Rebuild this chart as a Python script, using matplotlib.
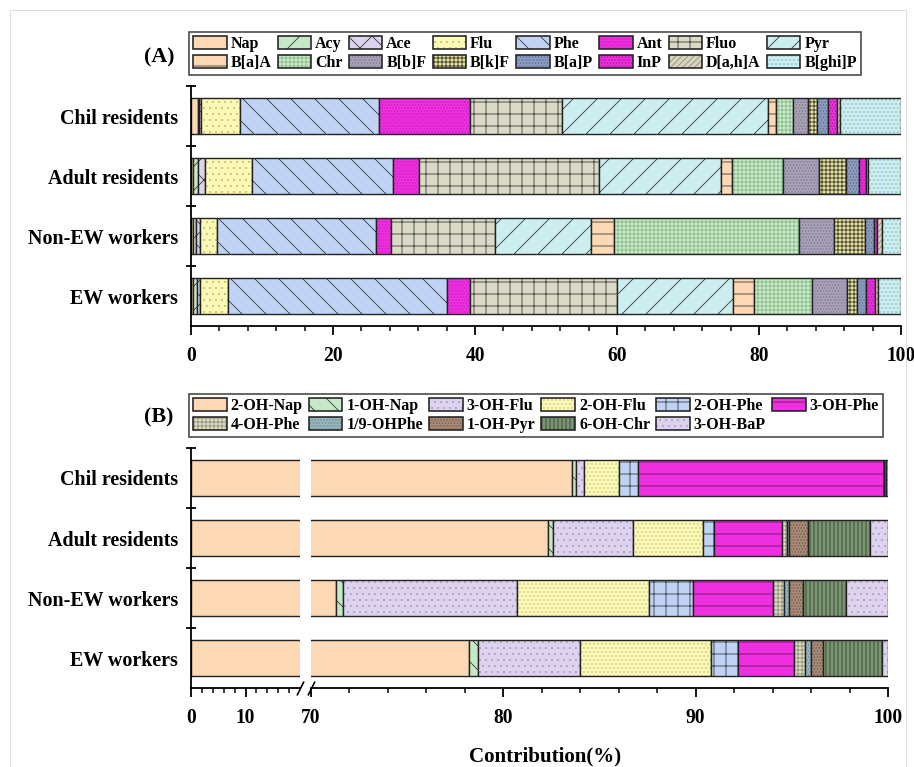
import numpy as np
import matplotlib
matplotlib.use('Agg')
import matplotlib.pyplot as plt
from matplotlib.patches import Patch, Rectangle

plt.rcParams['font.family'] = ['Liberation Serif', 'DejaVu Serif']
plt.rcParams['font.weight'] = 'bold'
plt.rcParams['hatch.linewidth'] = 0.8

# 行顺序：从下到上
groups = ['EW workers', 'Non-EW workers', 'Adult residents', 'Chil residents']

# (A) PAHs 贡献率 (%)
pah_names = ['Nap', 'Acy', 'Ace', 'Flu', 'Phe', 'Ant', 'Fluo', 'Pyr',
             'B[a]A', 'Chr', 'B[b]F', 'B[k]F', 'B[a]P', 'InP', 'D[a,h]A', 'B[ghi]P']
pah_ew = [0.35, 0.5, 0.45, 3.9, 30.8, 3.3, 20.7, 16.3, 3.0, 8.2, 4.9, 1.4, 1.3, 1.2, 0.5, 3.2]
pah_nonew = [0.25, 0.5, 0.55, 2.4, 22.3, 2.2, 14.6, 13.5, 3.3, 26.0, 4.9, 4.4, 1.3, 0.4, 0.7, 2.7]
pah_adult = [0.35, 0.7, 0.95, 6.55, 19.9, 3.6, 25.4, 17.2, 1.6, 7.1, 5.1, 3.8, 1.8, 1.0, 0.3, 4.65]
pah_chil = [1.0, 0.15, 0.2, 5.5, 19.6, 12.8, 13.0, 29.0, 1.1, 2.5, 2.0, 1.3, 1.6, 1.2, 0.5, 8.5]

# (B) OH-PAHs 贡献率 (%)
oh_names = ['2-OH-Nap', '1-OH-Nap', '3-OH-Flu', '2-OH-Flu', '2-OH-Phe', '3-OH-Phe',
            '4-OH-Phe', '1/9-OHPhe', '1-OH-Pyr', '6-OH-Chr', '3-OH-BaP']
oh_ew = [78.2, 0.5, 5.3, 6.8, 1.4, 2.9, 0.6, 0.3, 0.6, 3.1, 0.3]
oh_nonew = [71.3, 0.35, 9.05, 6.85, 2.3, 4.15, 0.6, 0.25, 0.75, 2.2, 2.2]
oh_adult = [82.3, 0.3, 4.15, 3.65, 0.55, 3.55, 0.25, 0.12, 0.98, 3.2, 0.95]
oh_chil = [83.55, 0.25, 0.4, 1.8, 1.0, 12.8, 0.0, 0.0, 0.0, 0.1, 0.1]

# 样式
pah_colors = ['#FDD8B4', '#C6E8C6', '#DCD3EC', '#FCF9B4', '#C0D3F5', '#EE30E0', '#DADAC6', '#CDEEF0',
              '#FDD8B4', '#C8EAC8', '#A8A0B6', '#E6E2A6', '#8C9CC0', '#E830D8', '#D6D4BC', '#CDEEF0']
pah_hatch = ['', '/', 'x', '..', '\\', '....', '+', '/',
             '-', '+++', '....', '+++', '....', '....', '////', '...']
pah_hcol = ['#333333', '#333333', '#333333', '#C8C080', '#333333', '#C818B8', '#333333', '#333333',
            '#333333', '#88B888', '#807890', '#303018', '#5C6C90', '#B010A8', '#8E8C74', '#88B8C0']

oh_colors = ['#FDD8B4', '#C6E8C6', '#DDD3EE', '#FCF9B4', '#C0D3F5', '#EE30E0',
             '#DCDCC4', '#98B4BC', '#A88A78', '#7C9474', '#DDD3EE']
oh_hatch = ['', '\\', '..', '...', '+', '-', '+++', '....', '....', '|||', '..']
oh_hcol = ['#333333', '#333333', '#B0A0C8', '#C8C080', '#333333', '#6A1060',
           '#8E8E74', '#6A8890', '#6E5444', '#2E4028', '#B0A0C8']

EDGE = '#222222'
W, H = 914, 767
fig = plt.figure(figsize=(W / 72, H / 72), dpi=72)


def px(x0, y0, w, h):
    return [x0 / W, 1 - (y0 + h) / H, w / W, h / H]


def draw_stack(ax, rows, colors, hatches, hcols):
    y = np.arange(len(groups))
    data = np.array(rows)
    left = np.zeros(len(groups))
    for j in range(data.shape[1]):
        w = data[:, j]
        ax.barh(y, w, left=left, height=0.6, color=colors[j], edgecolor=hcols[j],
                hatch=hatches[j], linewidth=0)
        ax.barh(y, w, left=left, height=0.6, fill=False, edgecolor=EDGE, linewidth=1.4)
        left = left + w


def style_y(ax, labels=True):
    ax.set_ylim(-0.5, 3.5)
    ax.set_yticks(range(4))
    if labels:
        ax.set_yticklabels(groups, fontsize=20)
        ax.tick_params(axis='y', which='major', length=0, pad=13)
        ax.set_yticks([0.5, 1.5, 2.5, 3.5], minor=True)
        ax.tick_params(axis='y', which='minor', direction='inout', length=10, width=1.8)
    else:
        ax.set_yticks([])
        ax.tick_params(axis='y', which='both', left=False)
    for s in ['top', 'right']:
        ax.spines[s].set_visible(False)
    ax.spines['left'].set_linewidth(1.8)
    ax.spines['bottom'].set_linewidth(1.8)
    ax.tick_params(axis='x', which='major', direction='out', length=9, width=1.8,
                   labelsize=19.5, pad=11)
    ax.tick_params(axis='x', which='minor', direction='out', length=5, width=1.5)


def make_legend(names, colors, hatches, hcols, ncol, anchor, colsp):
    handles = [(Patch(facecolor=colors[i], edgecolor=hcols[i], hatch=hatches[i], linewidth=0),
                Patch(fill=False, edgecolor=EDGE, linewidth=1.6)) for i in range(len(names))]
    nrow = 2
    # 按行顺序排列（legend 按列填充）
    order = []
    for c in range(ncol):
        for r in range(nrow):
            k = r * ncol + c
            if k < len(names):
                order.append(k)
    leg = fig.legend([handles[k] for k in order], [names[k] for k in order],
                     loc='upper left', bbox_to_anchor=anchor, ncol=ncol, fontsize=16,
                     frameon=True, fancybox=False, edgecolor='#444444', framealpha=1,
                     handlelength=2.1, handleheight=0.9, borderpad=0.25, labelspacing=0.15,
                     columnspacing=colsp, handletextpad=0.25, borderaxespad=0)
    leg.get_frame().set_linewidth(1.6)
    return leg


# ---------- (A) ----------
axA = fig.add_axes(px(191, 86, 710, 240))
draw_stack(axA, [pah_ew, pah_nonew, pah_adult, pah_chil], pah_colors, pah_hatch, pah_hcol)
axA.set_xlim(0, 100)
axA.set_xticks(np.arange(0, 101, 20))
axA.set_xticks(np.arange(0, 101, 4), minor=True)
style_y(axA)
make_legend(pah_names, pah_colors, pah_hatch, pah_hcol, 8, (189 / W, 1 - 32 / H), 0.38)
fig.text(159 / W, 1 - 57 / H, '(A)', ha='center', va='center', fontsize=22, weight='bold')

# ---------- (B) 断轴 ----------
axB1 = fig.add_axes(px(191, 448, 109, 240))
axB2 = fig.add_axes(px(311, 448, 577, 240))
for ax in (axB1, axB2):
    draw_stack(ax, [oh_ew, oh_nonew, oh_adult, oh_chil], oh_colors, oh_hatch, oh_hcol)
axB1.set_xlim(0, 20)
axB1.set_xticks([0, 10])
axB1.set_xticks([2, 4, 6, 8, 12, 14, 16, 18], minor=True)
style_y(axB1)
axB2.set_xlim(70, 100)
axB2.set_xticks([70, 80, 90, 100])
axB2.set_xticks([x for x in range(72, 100, 2) if x % 10], minor=True)
style_y(axB2, labels=False)
axB2.spines['left'].set_visible(False)

# 断轴标记
kw = dict(marker=[(-0.5, -1), (0.5, 1)], markersize=14, linestyle='none',
          color='k', mec='k', mew=1.6, clip_on=False)
axB1.plot([1.0], [0], transform=axB1.transAxes, **kw)
axB2.plot([0.0], [0], transform=axB2.transAxes, **kw)

make_legend(oh_names, oh_colors, oh_hatch, oh_hcol, 6, (189 / W, 1 - 394 / H), 0.38)
fig.text(159 / W, 1 - 417 / H, '(B)', ha='center', va='center', fontsize=22, weight='bold')

fig.text(545 / W, 1 - 756 / H, 'Contribution(%)', ha='center', va='center', fontsize=21,
         weight='bold')

# 外框
fig.add_artist(Rectangle((10 / W, -0.02), 896 / W, 1 - 10 / H + 0.02, transform=fig.transFigure,
                         fill=False, edgecolor='#DDDDDD', linewidth=1))

fig.savefig('out.png', dpi=72)
